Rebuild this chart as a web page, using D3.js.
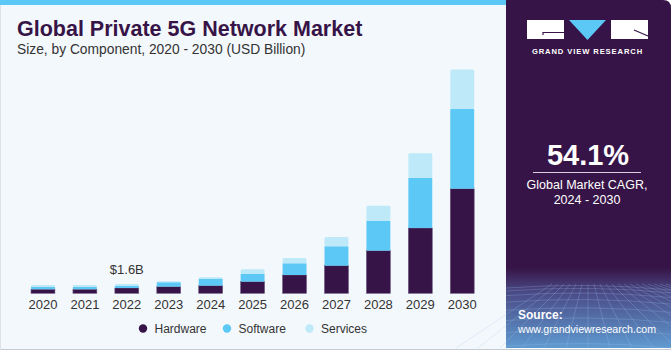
<!DOCTYPE html>
<html>
<head>
<meta charset="utf-8">
<script src="https://cdn.jsdelivr.net/npm/d3@7"></script>
<style>
  body { margin: 0; background: #ffffff; }
  svg { display: block; font-family: "Liberation Sans", Arial, sans-serif; }
</style>
</head>
<body>
<div id="myChart"></div>
<script>
// Size of the whole picture
const w = 671;
const h = 350;

// Data (USD Billion)
const years = ["2020", "2021", "2022", "2023", "2024", "2025", "2026", "2027", "2028", "2029", "2030"];
const hardware = [0.69, 0.69, 0.91, 1.14, 1.31, 2.0, 3.15, 4.75, 7.33, 11.23, 17.99];
const software = [0.45, 0.45, 0.40, 0.76, 1.15, 1.38, 2.01, 3.34, 5.16, 8.65, 13.71];
const services = [0.29, 0.29, 0.29, 0.17, 0.29, 0.76, 0.91, 1.60, 2.58, 4.20, 6.79];
const keys = ["Hardware", "Software", "Services"];
const colors = ["#371447", "#5bc8f5", "#bde9f9"];
const callout = { year: "2022", label: "$1.6B" };

const data = years.map((y, i) => ({
  year: y, Hardware: hardware[i], Software: software[i], Services: services[i]
}));

const svg = d3.select("#myChart")
  .append("svg")
    .attr("width", w)
    .attr("height", h)
    .attr("viewBox", [0, 0, w, h]);

// Background panels
svg.append("rect")
  .attr("x", 0).attr("y", 0).attr("width", 512).attr("height", h)
  .attr("fill", "#f3f8fc");
svg.append("rect")
  .attr("x", 0).attr("y", 0).attr("width", 512).attr("height", 5)
  .attr("fill", "#5bc8f5");
svg.append("line")
  .attr("x1", 0).attr("x2", w).attr("y1", 349.5).attr("y2", 349.5)
  .attr("stroke", "#c8ccd0");
svg.append("line")
  .attr("x1", 0.5).attr("x2", 0.5).attr("y1", 5).attr("y2", h)
  .attr("stroke", "#dde2e6");

// Right side panel
const defs = svg.append("defs");
const grad = defs.append("linearGradient")
  .attr("id", "panelGrad").attr("x1", 0).attr("x2", 0).attr("y1", 0).attr("y2", 1);
grad.append("stop").attr("offset", "0%").attr("stop-color", "#371447");
grad.append("stop").attr("offset", "77%").attr("stop-color", "#371447");
grad.append("stop").attr("offset", "84%").attr("stop-color", "#4a4a86");
grad.append("stop").attr("offset", "100%").attr("stop-color", "#5f9ad0");

const panel = svg.append("g");
panel.append("path")
  .attr("d", "M506,0 H663 Q671,0 671,8 V348 H506 Z")
  .attr("fill", "url(#panelGrad)");

// faint mesh in the lower part of the panel
const mesh = panel.append("g").attr("stroke", "#9fc4ea").attr("stroke-opacity", 0.25).attr("fill", "none");
d3.range(0, 9).forEach(i => {
  const y = 288 + i * i * 0.9 + i * 2;
  mesh.append("path").attr("d", `M506,${y} Q590,${y - 6} 671,${y + 2}`);
});
d3.range(-6, 14).forEach(i => {
  mesh.append("line")
    .attr("x1", 588 + i * 6).attr("y1", 284)
    .attr("x2", 588 + i * 22).attr("y2", 348);
});

// logo
const logo = panel.append("g");
logo.append("rect").attr("x", 527).attr("y", 20).attr("width", 37).attr("height", 19).attr("fill", "#ffffff");
logo.append("path").attr("d", "M543,35 V32.5 H564").attr("stroke", "#371447").attr("stroke-width", 1.2).attr("fill", "none");
logo.append("path").attr("d", "M569,20 H606 L587.5,40 Z").attr("fill", "#5bc8f5");
logo.append("rect").attr("x", 611).attr("y", 20).attr("width", 37).attr("height", 19).attr("fill", "#ffffff");
logo.append("path").attr("d", "M634,30 L648,36").attr("stroke", "#371447").attr("stroke-width", 1.2);
logo.append("text")
  .attr("x", 587.5).attr("y", 53.5)
  .attr("text-anchor", "middle")
  .attr("fill", "#ffffff")
  .attr("font-size", 7.6).attr("font-weight", "bold")
  .attr("letter-spacing", 0.9)
  .text("GRAND VIEW RESEARCH");

panel.append("text")
  .attr("x", 588).attr("y", 165)
  .attr("text-anchor", "middle").attr("fill", "#ffffff")
  .attr("font-size", 29).attr("font-weight", "bold")
  .text("54.1%");
panel.append("line")
  .attr("x1", 533).attr("x2", 641).attr("y1", 172.5).attr("y2", 172.5)
  .attr("stroke", "#d8d0e0").attr("stroke-width", 1);
panel.append("text")
  .attr("x", 587).attr("y", 189)
  .attr("text-anchor", "middle").attr("fill", "#ffffff")
  .attr("font-size", 12.5)
  .text("Global Market CAGR,");
panel.append("text")
  .attr("x", 587).attr("y", 203.5)
  .attr("text-anchor", "middle").attr("fill", "#ffffff")
  .attr("font-size", 12.5)
  .text("2024 - 2030");
panel.append("text")
  .attr("x", 518).attr("y", 319)
  .attr("fill", "#ffffff").attr("font-size", 12).attr("font-weight", "bold")
  .text("Source:");
panel.append("text")
  .attr("x", 518).attr("y", 332.5)
  .attr("fill", "#ffffff").attr("font-size", 11)
  .attr("textLength", 138).attr("lengthAdjust", "spacingAndGlyphs")
  .text("www.grandviewresearch.com");

// Titles
svg.append("text")
  .attr("x", 17).attr("y", 36)
  .attr("fill", "#371447")
  .attr("font-size", 21.5).attr("font-weight", "bold")
  .text("Global Private 5G Network Market");
svg.append("text")
  .attr("x", 17).attr("y", 54)
  .attr("fill", "#333333")
  .attr("font-size", 13.8)
  .text("Size, by Component, 2020 - 2030 (USD Billion)");

// Scales
const baseY = 293.3;
const xScale = d3.scaleBand()
  .domain(years)
  .range([22, 483.2])
  .paddingInner(0.43)
  .paddingOuter(0.215);

const yScale = d3.scaleLinear()
  .domain([0, 38.5])
  .range([baseY, baseY - 223.8]);

const color = d3.scaleOrdinal().domain(keys).range(colors);

const stackedData = d3.stack().keys(keys)(data);

// Bars
const series = svg.append("g")
  .selectAll("g.series")
  .data(stackedData)
  .enter()
  .append("g")
    .attr("class", "series")
    .attr("fill", d => color(d.key));

series.selectAll("rect")
  .data(d => d)
  .enter()
  .append("rect")
    .attr("x", d => xScale(d.data.year))
    .attr("width", xScale.bandwidth())
    .attr("y", d => yScale(d[1]))
    .attr("height", d => yScale(d[0]) - yScale(d[1]));

// rounded tops on the services layer
series.filter(d => d.key === "Services").selectAll("rect")
  .attr("rx", 1.5);
series.filter(d => d.key === "Hardware").selectAll("rect")
  .attr("stroke", "#6d5580").attr("stroke-width", 0.6);

// X axis labels
const xAxis = d3.axisBottom(xScale).tickSize(0).tickPadding(6);
const gx = svg.append("g")
  .attr("transform", `translate(0,${baseY})`)
  .call(xAxis);
gx.select(".domain").remove();
gx.selectAll("text")
  .attr("font-family", "Liberation Sans, Arial, sans-serif")
  .attr("font-size", 13)
  .attr("fill", "#333333");

// Value callout
const calloutRow = data.find(d => d.year === callout.year);
svg.append("text")
  .attr("x", xScale(callout.year) + xScale.bandwidth() / 2)
  .attr("y", yScale(calloutRow.Hardware + calloutRow.Software + calloutRow.Services) - 10)
  .attr("text-anchor", "middle")
  .attr("fill", "#333333")
  .attr("font-size", 13)
  .text(callout.label);

// Legend
const legendX = [143, 227, 309.5];
const legend = svg.append("g")
  .selectAll("g")
  .data(keys)
  .enter()
  .append("g")
    .attr("transform", (d, i) => `translate(${legendX[i]},328.5)`);
legend.append("circle")
  .attr("r", 4.2)
  .attr("fill", d => color(d));
legend.append("text")
  .attr("x", 11.5).attr("y", 4.3)
  .attr("fill", "#333333")
  .attr("font-size", 12)
  .text(d => d);
</script>
</body>
</html>
